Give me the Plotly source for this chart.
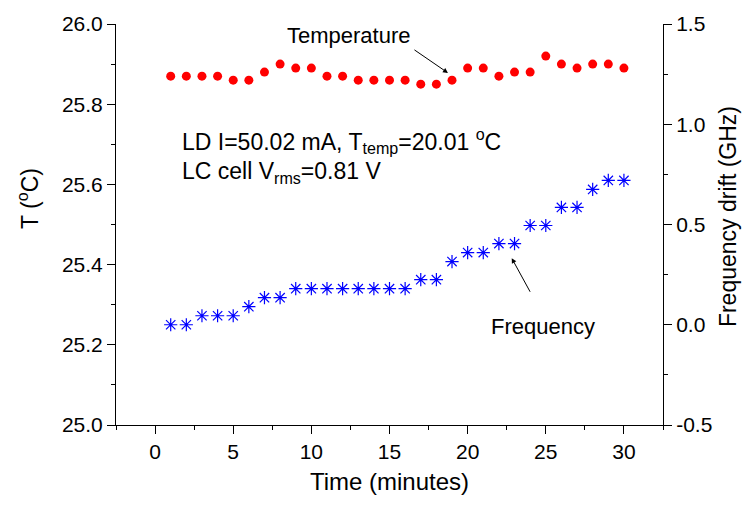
import plotly.graph_objects as go

time_min = list(range(1, 31))
temperature = [25.87, 25.87, 25.87, 25.87, 25.86, 25.86, 25.88, 25.90, 25.89, 25.89,
               25.87, 25.87, 25.86, 25.86, 25.86, 25.86, 25.85, 25.85, 25.86, 25.89,
               25.89, 25.87, 25.88, 25.88, 25.92, 25.90, 25.89, 25.90, 25.90, 25.89]
freq_drift = [0.0, 0.0, 0.045, 0.045, 0.045, 0.09, 0.135, 0.135, 0.18, 0.18,
              0.18, 0.18, 0.18, 0.18, 0.18, 0.18, 0.225, 0.225, 0.315, 0.36,
              0.36, 0.405, 0.405, 0.495, 0.495, 0.585, 0.585, 0.675, 0.72, 0.72]
y2_ticks = [-0.5, 0.0, 0.5, 1.0, 1.5]
y2_labels = ["-0.5", "0.0", "0.5", "1.0", "1.5"]

FONT = "Liberation Sans, Arial, sans-serif"

fig = go.Figure()
fig.add_trace(go.Scatter(x=time_min, y=temperature, mode="markers", name="Temperature",
                         marker=dict(symbol="circle", size=9, color="#ff0000"),
                         yaxis="y"))
fig.add_trace(go.Scatter(x=time_min, y=freq_drift, mode="markers", name="Frequency",
                         marker=dict(symbol="asterisk-open", size=11, color="#0000ff",
                                     line=dict(color="#0000ff", width=1.2)),
                         yaxis="y2"))

axis_common = dict(showline=True, linecolor="black", linewidth=1, ticks="outside",
                   ticklen=8, tickwidth=1, tickcolor="black", showgrid=False,
                   zeroline=False, tickfont=dict(family=FONT, size=21, color="black"))

fig.update_layout(
    width=744, height=507,
    margin=dict(l=116, r=81, t=22, b=82),
    paper_bgcolor="white", plot_bgcolor="white",
    showlegend=False,
    font=dict(family=FONT, color="black"),
    xaxis=dict(range=[-2.5, 32.5], dtick=5, tick0=0,
               minor=dict(dtick=2.5, ticks="outside", ticklen=4, tickcolor="black"),
               title=dict(text="Time (minutes)", font=dict(family=FONT, size=24), standoff=10),
               **axis_common),
    yaxis=dict(range=[25.0, 26.0], dtick=0.2, tick0=25.0, tickformat=".1f",
               minor=dict(dtick=0.1, ticks="outside", ticklen=4, tickcolor="black"),
               **axis_common),
    yaxis2=dict(range=[-0.5, 1.5], tickmode="array", tickvals=y2_ticks, ticktext=y2_labels,
                overlaying="y", side="right",
                minor=dict(tickmode="linear", tick0=0, dtick=0.25, ticks="outside",
                           ticklen=4, tickcolor="black"),
                **axis_common),
)

ann_font = dict(family=FONT, size=22, color="black")
txt_font = dict(family=FONT, size=23, color="black")
annotations = [
    dict(text="T (<sup>o</sup>C)", xref="paper", yref="paper", x=-0.16, y=0.565,
         textangle=-90, showarrow=False, font=dict(family=FONT, size=23, color="black"),
         xanchor="center", yanchor="middle"),
    dict(text="Frequency drift (GHz)", xref="paper", yref="paper", x=1.12, y=0.52,
         textangle=-90, showarrow=False, font=dict(family=FONT, size=23, color="black"),
         xanchor="center", yanchor="middle"),
    dict(text="Temperature", xref="x", yref="y", x=12.44, y=25.972, showarrow=False,
         font=ann_font, xanchor="center", yanchor="middle"),
    dict(text="", xref="x", yref="y", x=18.74, y=25.878, ax=16.5, ay=25.938,
         axref="x", ayref="y", showarrow=True, arrowhead=2, arrowsize=1, arrowwidth=1,
         arrowcolor="black"),
    dict(text="Frequency", xref="x", yref="y2", x=24.85, y=-0.009, showarrow=False,
         font=ann_font, xanchor="center", yanchor="middle"),
    dict(text="", xref="x", yref="y2", x=22.82, y=0.332, ax=24.05, ay=0.157,
         axref="x", ayref="y2", showarrow=True, arrowhead=2, arrowsize=1, arrowwidth=1,
         arrowcolor="black"),
    dict(text="LD I=50.02 mA, T<sub>temp</sub>=20.01 <sup>o</sup>C", xref="x", yref="y",
         x=1.595, y=25.708, showarrow=False, font=txt_font, xanchor="left", yanchor="middle"),
    dict(text="LC cell V<sub>rms</sub>=0.81 V", xref="x", yref="y",
         x=1.595, y=25.630, showarrow=False, font=txt_font, xanchor="left", yanchor="middle"),
]
fig.update_layout(annotations=annotations)

fig.write_html("out.html")
